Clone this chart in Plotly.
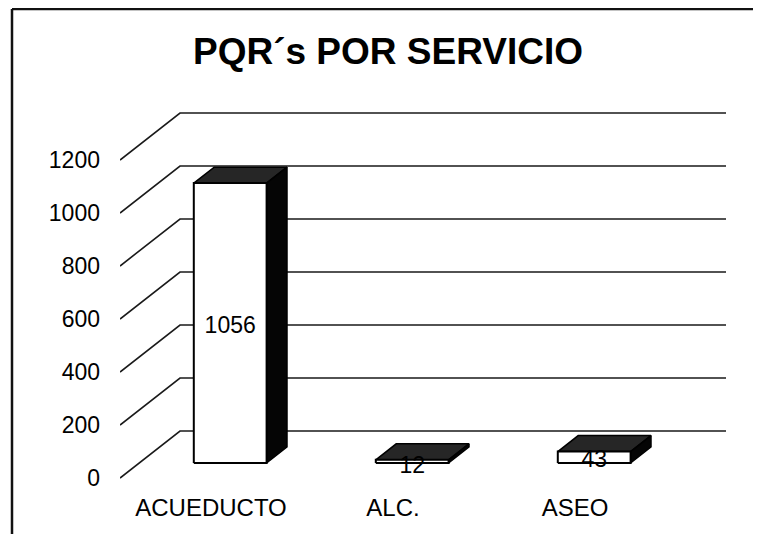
import plotly.graph_objects as go

# ---- data ----
categories = ["ACUEDUCTO", "ALC.", "ASEO"]
values = [1056, 12, 43]
y_ticks = [0, 200, 400, 600, 800, 1000, 1200]
title_text = "PQR´s POR SERVICIO"

# ---- 3D projection parameters (axis units) ----
DX = 60 / 182.0        # full depth offset along x (category units)
DY = 47 / 0.265        # full depth offset along y (value units)
F1, F2 = 0.32, 0.66    # bar front / back plane as fraction of depth
BAR_W = 0.40
X_MIN, X_MAX = -0.5, 2.8297
Y_MIN, Y_MAX = -37.7, 1426.4
LABEL_DROP = 15        # value units, label sits slightly below face middle

FONT = "Arial, Liberation Sans, sans-serif"
LINE_COL = "#1a1a1a"

fig = go.Figure()

# diagonal (side wall) lines and back-wall gridlines
gx, gy = [], []
for t in y_ticks:
    gx += [X_MIN, X_MIN + DX, X_MAX, None]
    gy += [t, t + DY, t + DY, None]
fig.add_trace(go.Scatter(x=gx, y=gy, mode="lines",
                         line=dict(color=LINE_COL, width=1.6),
                         hoverinfo="skip", showlegend=False))

# bars as 3D boxes (top, side, front)
for i, (cat, v) in enumerate(zip(categories, values)):
    c = i + F1 * DX
    b = F1 * DY
    xl, xr = c - BAR_W / 2, c + BAR_W / 2
    ddx, ddy = (F2 - F1) * DX, (F2 - F1) * DY
    # top face
    fig.add_trace(go.Scatter(
        x=[xl, xr, xr + ddx, xl + ddx, xl],
        y=[b + v, b + v, b + v + ddy, b + v + ddy, b + v],
        mode="lines", fill="toself", fillcolor="#262626",
        line=dict(color="#000000", width=1.5),
        hoverinfo="skip", showlegend=False))
    # side face
    fig.add_trace(go.Scatter(
        x=[xr, xr + ddx, xr + ddx, xr, xr],
        y=[b, b + ddy, b + v + ddy, b + v, b],
        mode="lines", fill="toself", fillcolor="#050505",
        line=dict(color="#000000", width=1.5),
        hoverinfo="skip", showlegend=False))
    # front face
    fig.add_trace(go.Scatter(
        x=[xl, xr, xr, xl, xl],
        y=[b, b, b + v, b + v, b],
        mode="lines", fill="toself", fillcolor="#ffffff",
        line=dict(color="#000000", width=2),
        hoverinfo="skip", showlegend=False))
    # data label
    fig.add_trace(go.Scatter(
        x=[c], y=[b + v / 2 - LABEL_DROP - (8 if v < 30 else 0)], mode="text",
        text=[str(v)], textposition="middle center",
        textfont=dict(family=FONT, size=23, color="#000000"),
        cliponaxis=False, hoverinfo="skip", showlegend=False))

OFF = 8  # page body margin
W, H = 761 - OFF, 534 - OFF
L, R, T, B = 120 - OFF, 35, 100 - OFF, 46
pw, ph = W - L - R, H - T - B

def px_to_paper_x(p):
    return (p - OFF - L) / pw

def px_to_paper_y(p):
    return (H - B - (p - OFF)) / ph

fig.update_layout(
    width=W, height=H,
    margin=dict(l=L, r=R, t=T, b=B),
    paper_bgcolor="white", plot_bgcolor="white",
    showlegend=False,
    title=dict(text=f"<b>{title_text}</b>", x=(388 - OFF) / W, xanchor="center",
               y=1 - (51 - OFF) / H, yanchor="middle", xref="container", yref="container",
               font=dict(family=FONT, size=37, color="#000000")),
    xaxis=dict(range=[X_MIN, X_MAX], tickvals=list(range(len(categories))),
               ticktext=categories, showgrid=False, zeroline=False,
               showline=False, ticks="", ticklabelstandoff=3,
               tickfont=dict(family=FONT, size=24, color="#000000")),
    yaxis=dict(range=[Y_MIN, Y_MAX], tickvals=y_ticks,
               showgrid=False, zeroline=False, showline=False, ticks="",
               ticklabelstandoff=19,
               tickfont=dict(family=FONT, size=23, color="#000000")),
    shapes=[
        dict(type="line", xref="paper", yref="paper",
             x0=px_to_paper_x(12), x1=px_to_paper_x(761),
             y0=px_to_paper_y(9), y1=px_to_paper_y(9),
             line=dict(color="#111111", width=2.5)),
        dict(type="line", xref="paper", yref="paper",
             x0=px_to_paper_x(12), x1=px_to_paper_x(12),
             y0=px_to_paper_y(9), y1=px_to_paper_y(534),
             line=dict(color="#111111", width=2.5)),
    ],
)

fig.write_html("out.html")
